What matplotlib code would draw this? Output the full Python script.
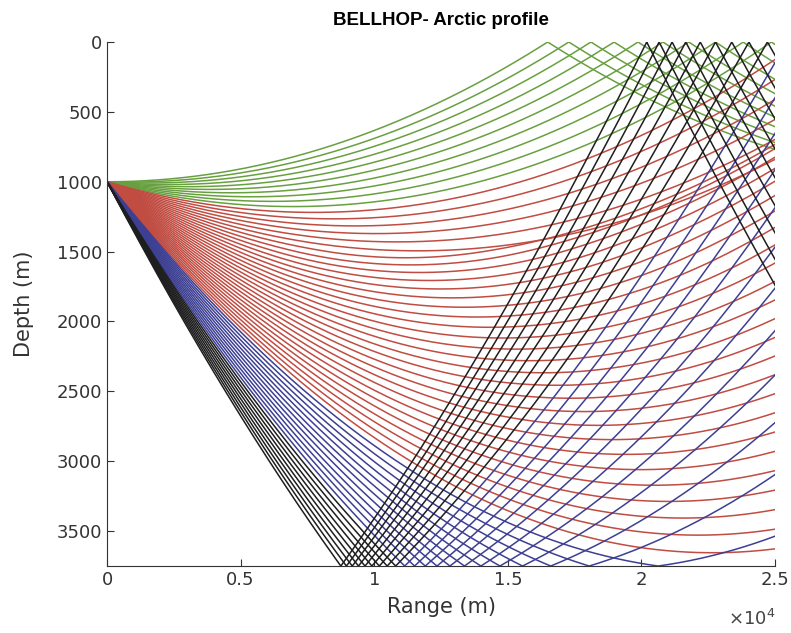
import math
import numpy as np
import matplotlib
matplotlib.use("Agg")
import matplotlib.pyplot as plt
from matplotlib.ticker import FuncFormatter

# Sound speed profile (depth m, speed m/s)
ssp_depth = np.array([0.0, 500.0, 1000.0, 1500.0, 2500.0, 3750.0])
ssp_speed = np.array([1436.0, 1441.3, 1446.6, 1451.9, 1467.0, 1486.0])

src_depth = 1000.0
bottom_depth = 3750.0
max_range = 25000.0

# beam fan (degrees, positive = downward)
n_beams = 62
angle_min = 0.0
angle_max = 19.8

ray_colors = {"red": "#c04c42", "green": "#68a040", "blue": "#3d3f93", "black": "#1e1e1e"}

ssp_grad = np.diff(ssp_speed) / np.diff(ssp_depth)


def sound(z):
    i = int(np.searchsorted(ssp_depth, z)) - 1
    i = min(max(i, 0), len(ssp_grad) - 1)
    return ssp_speed[i] + ssp_grad[i] * (z - ssp_depth[i]), ssp_grad[i]


def trace(angle, ds=10.0):
    """Trace one ray, reflecting at surface and bottom."""
    r, z, th = 0.0, src_depth, math.radians(angle)
    rr, zz = [r], [z]
    n_top = n_bot = 0
    while r < max_range:
        c, g = sound(z)
        k1 = -g / c * math.cos(th)
        zm = z + 0.5 * ds * math.sin(th)
        thm = th + 0.5 * ds * k1
        c, g = sound(zm)
        k2 = -g / c * math.cos(thm)
        rn = r + ds * math.cos(thm)
        zn = z + ds * math.sin(thm)
        thn = th + ds * k2
        if zn < 0 or zn > bottom_depth:
            zb = 0.0 if zn < 0 else bottom_depth
            f = (zb - z) / (zn - z)
            rr.append(r + f * (rn - r))
            zz.append(zb)
            zn = 2 * zb - zn
            thn = -thn
            if zb == 0.0:
                n_top += 1
            else:
                n_bot += 1
        r, z, th = rn, zn, thn
        rr.append(r)
        zz.append(z)
    return rr, zz, n_top, n_bot


fig = plt.figure(figsize=(7.91, 6.33), dpi=100)
ax = fig.add_axes([0.1353, 0.1058, 0.8445, 0.8278])

for ang in np.linspace(angle_min, angle_max, n_beams):
    rr, zz, nt, nb = trace(ang)
    if nt > 0 and nb > 0:
        col = ray_colors["black"]
    elif nt > 0:
        col = ray_colors["green"]
    elif nb > 0:
        col = ray_colors["blue"]
    else:
        col = ray_colors["red"]
    ax.plot(rr, zz, color=col, linewidth=1.1)

ax.set_xlim(0, max_range)
ax.set_ylim(bottom_depth, 0)
ax.set_xticks(np.arange(0, 25001, 5000))
ax.set_yticks(np.arange(0, 3501, 500))
ax.xaxis.set_major_formatter(FuncFormatter(lambda v, p: "%g" % (v / 1e4)))
ax.text(1.0, -0.082, r"$\times10^{4}$", transform=ax.transAxes, ha="right", va="top",
        fontsize=13, color="#444444")

for s in ["top", "right"]:
    ax.spines[s].set_visible(False)
for s in ["left", "bottom"]:
    ax.spines[s].set_color("#333333")
ax.tick_params(direction="in", length=5, labelsize=13, colors="#333333")

ax.set_xlabel("Range (m)", fontsize=15, color="#333333", labelpad=6)
ax.set_ylabel("Depth (m)", fontsize=15, color="#333333", labelpad=16)
ax.set_title("BELLHOP- Arctic profile", fontsize=13.5, fontweight="bold",
             family="Liberation Sans", pad=12)

plt.savefig("out.png", dpi=100)
